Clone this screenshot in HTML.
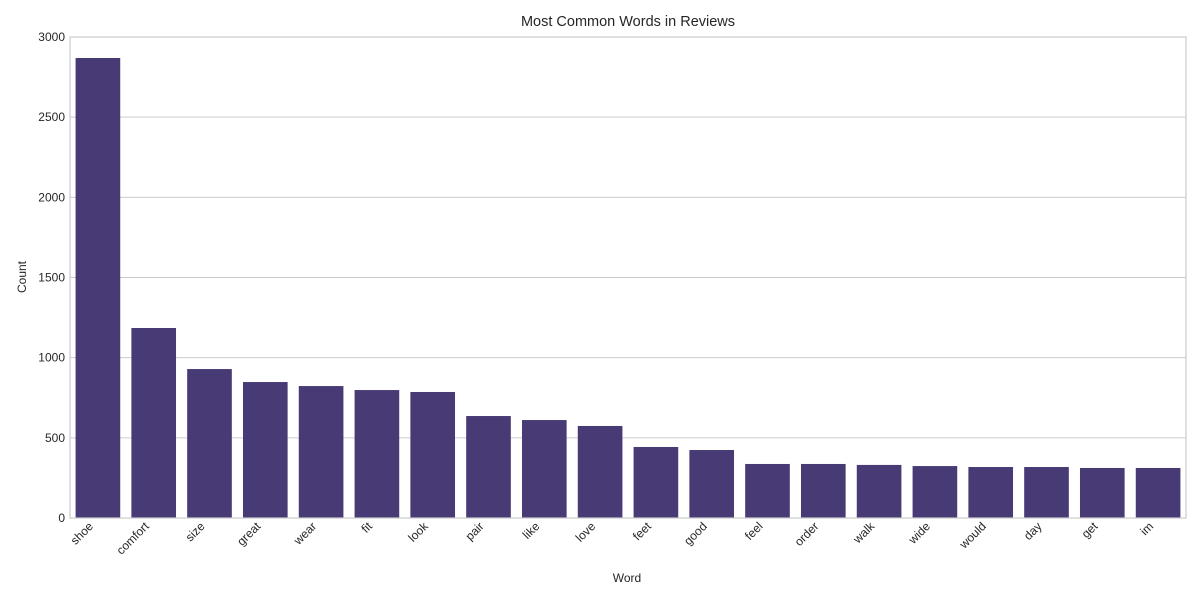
<!DOCTYPE html>
<html><head><meta charset="utf-8"><style>body{margin:0;background:#fff}svg{display:block;font-family:"Liberation Sans",Arial,sans-serif}</style></head>
<body>
<svg id="chart" width="1200" height="600">
<rect width="1200" height="600" fill="#fff"/>
<text x="628" y="26" text-anchor="middle" font-size="14.5" fill="#262626">Most Common Words in Reviews</text>
<g id="grid"></g><g id="bars"></g><g id="xt"></g><g id="yt"></g>
<rect x="70" y="37" width="1116" height="481" fill="none" stroke="#cccccc" stroke-width="1.2"/>
<text x="627" y="582" text-anchor="middle" font-size="12" fill="#262626">Word</text>
<text transform="translate(26,277) rotate(-90)" text-anchor="middle" font-size="12" fill="#262626">Count</text>
</svg>
<script>
const categories=["shoe","comfort","size","great","wear","fit","look","pair","like","love","feet","good","feel","order","walk","wide","would","day","get","im"];
const counts=[2869,1185,929,848,823,798,786,636,611,574,443,424,337,337,331,324,318,318,312,312];
const yTicks=[0,500,1000,1500,2000,2500,3000];
const NS="http://www.w3.org/2000/svg";
const x0=70,x1=1186,yb=518,yt=37,ymax=3000;
const bw=(x1-x0)/categories.length;
const y=v=>yb-(v/ymax)*(yb-yt);
const xc=i=>x0+bw*(i+0.5);
function mk(t,a,p){const e=document.createElementNS(NS,t);for(const k in a)e.setAttribute(k,a[k]);document.getElementById(p).appendChild(e);return e;}
yTicks.forEach(v=>{
 const l=mk("line",{x1:x0,x2:x1,y1:y(v),y2:y(v),stroke:"#cccccc","stroke-width":1},"grid");
 
 
 const t=mk("text",{x:x0-5,y:y(v)+4,"text-anchor":"end","font-size":12,fill:"#262626"},"yt");
 t.textContent=v;
 
 
});
categories.forEach((c,i)=>{
 const w=bw*0.8;
 const r=mk("rect",{x:xc(i)-w/2,y:y(counts[i]),width:w,height:yb-y(counts[i]),fill:"#483a75"},"bars");
 
 
 const t=mk("text",{transform:`translate(${xc(i)-4},${yb+9}) rotate(-45)`,"text-anchor":"end","font-size":12,fill:"#262626"},"xt");
 t.textContent=c;
 
 
});
</script>
</body></html>
